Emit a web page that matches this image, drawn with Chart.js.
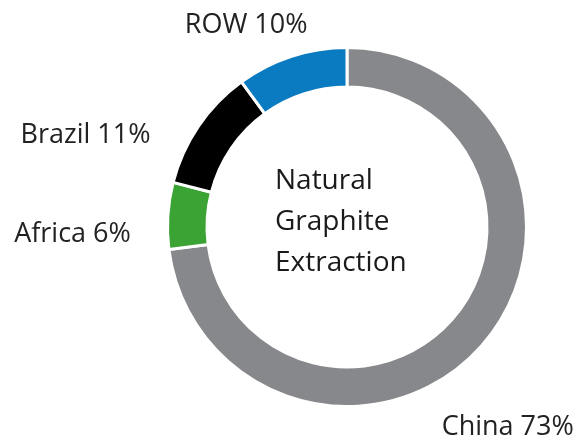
<!DOCTYPE html>
<html>
<head>
<meta charset="utf-8">
<script src="https://cdn.jsdelivr.net/npm/chart.js@4.4.0/dist/chart.umd.min.js"></script>
<style>
  html, body { margin:0; padding:0; background:#fff; }
  #wrap { width:580px; height:438px; }
</style>
</head>
<body>
<div id="wrap"><canvas id="donut" width="580" height="438"></canvas></div>
<script>
// data
const categories = ['China', 'Africa', 'Brazil', 'ROW'];
const shares = [73, 6, 11, 10];
const colors = ['#87888b', '#3ba234', '#000000', '#0a7bc0'];
const centerLines = ['Natural', 'Graphite', 'Extraction'];

// where each label sits relative to the outer middle of its slice
const labelPlace = [
  {align:'left',  dx:-40, dy:89},
  {align:'right', dx:-37, dy:26},
  {align:'right', dx:-48, dy:17},
  {align:'right', dx:16,  dy:-23}
];

const labelFont = '27px "Open Sans"';
const centerFont = '28px "Open Sans"';

const sliceLabels = {
  id:'sliceLabels',
  afterDraw(chart){
    const ctx = chart.ctx;
    const arcs = chart.getDatasetMeta(0).data;
    ctx.save();
    ctx.fillStyle = '#222';
    ctx.font = labelFont;
    ctx.textBaseline = 'alphabetic';
    arcs.forEach((arc, i) => {
      const p = arc.getProps(['x','y','startAngle','endAngle','outerRadius'], true);
      const mid = (p.startAngle + p.endAngle) / 2;
      const x = p.x + Math.cos(mid) * p.outerRadius;
      const y = p.y + Math.sin(mid) * p.outerRadius;
      const pl = labelPlace[i];
      ctx.textAlign = pl.align;
      ctx.fillText(categories[i] + ' ' + shares[i] + '%', x + pl.dx, y + pl.dy);
    });
    // centre caption, left aligned block
    const a = arcs[0];
    ctx.font = centerFont;
    ctx.textAlign = 'left';
    ctx.fillStyle = '#1a1a1a';
    centerLines.forEach((t, i) => {
      ctx.fillText(t, a.x - 72, a.y - 38 + i * 41);
    });
    ctx.restore();
  }
};

new Chart(document.getElementById('donut'), {
  type:'doughnut',
  data:{
    labels: categories,
    datasets:[{
      data: shares,
      backgroundColor: colors,
      borderColor:'#ffffff',
      borderWidth:3,
      hoverOffset:0
    }]
  },
  options:{
    responsive:false,
    animation:false,
    cutout:'78%',
    rotation:0,
    layout:{padding:{left:164, right:50, top:46, bottom:30}},
    plugins:{legend:{display:false}, tooltip:{enabled:false}}
  },
  plugins:[sliceLabels]
});
</script>
</body>
</html>
